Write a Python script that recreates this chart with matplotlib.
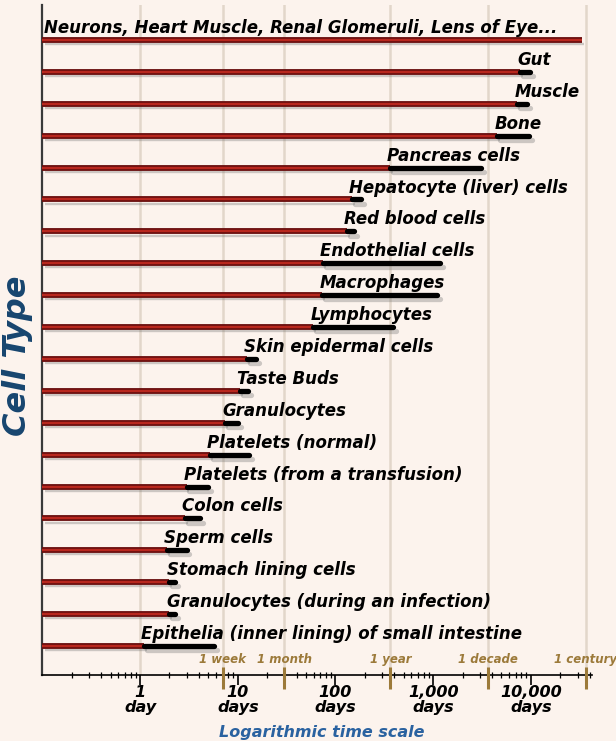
"""Cell turnover times on a logarithmic day scale: red bar up to the shortest
reported lifetime, black extension up to the longest."""

import matplotlib
matplotlib.use("Agg")
import matplotlib.pyplot as plt
import matplotlib.patheffects as pe
from matplotlib.ticker import LogLocator, NullFormatter

# top row first
cell_types = [
    "Neurons, Heart Muscle, Renal Glomeruli, Lens of Eye...",
    "Gut", "Muscle", "Bone", "Pancreas cells", "Hepatocyte (liver) cells",
    "Red blood cells", "Endothelial cells", "Macrophages", "Lymphocytes",
    "Skin epidermal cells", "Taste Buds", "Granulocytes", "Platelets (normal)",
    "Platelets (from a transfusion)", "Colon cells", "Sperm cells",
    "Stomach lining cells", "Granulocytes (during an infection)",
    "Epithelia (inner lining) of small intestine",
]
min_days = [33000, 7750, 7200, 4500, 360, 148, 131, 75, 73, 59,
            12.5, 10.5, 7.4, 5.2, 3.0, 2.9, 1.9, 2.0, 2.0, 1.1]
max_days = [33000, 9800, 9150, 9600, 3100, 183, 155, 1180, 1100, 390,
            15.4, 12.7, 10.1, 13.0, 5.0, 4.1, 3.0, 2.3, 2.3, 5.7]

marker_names = ["1 week", "1 month", "1 year", "1 decade", "1 century"]
marker_days = [7, 30, 365, 3650, 36500]

tick_days = [1, 10, 100, 1000, 10000]
tick_labels = ["1\nday", "10\ndays", "100\ndays", "1,000\ndays", "10,000\ndays"]

BG = "#fcf3ed"
RED = "#b8271e"
RED_DARK = "#680e0e"
BROWN = "#9c7a3a"
FONT = dict(family="DejaVu Sans", weight="bold", style="italic")

fig = plt.figure(figsize=(6.16, 7.41), dpi=100, facecolor=BG)
ax = fig.add_axes([0.0687, 0.0891, 0.892, 0.9042], facecolor=BG)
ax.set_xscale("log")
x0, x1 = 0.1, 42000
ax.set_xlim(x0, x1)
ax.set_ylim(-0.91, 20.1)

n = len(cell_types)

# light vertical guides at the named time spans and at 1 day
for d in [1] + marker_days:
    ax.axvline(d, color="#e2d6ca", lw=1.8, zorder=0)

shadow = pe.SimpleLineShadow(offset=(2, -3), shadow_color="0.45", alpha=0.35)
for i, (name, lo, hi) in enumerate(zip(cell_types, min_days, max_days)):
    y = n - 1 - i
    ax.plot([x0, lo], [y, y], color=RED, lw=1.7, solid_capstyle="butt",
            zorder=3, path_effects=[shadow, pe.Stroke(linewidth=4.2, foreground=RED_DARK),
                                    pe.Normal()])
    if hi > lo:
        ax.plot([lo, hi], [y, y], color="black", lw=3.8, solid_capstyle="round",
                zorder=4, path_effects=[shadow, pe.Normal()])
    # labels sit above the bar, starting where the red part ends
    lx = lo if lo < 20000 else x0 * 1.12
    ax.annotate(name, (lx, y), xytext=(-2, 5), textcoords="offset points",
                ha="left", va="baseline", fontsize=12, color="black", **FONT)

# spines and ticks
for s in ("top", "right"):
    ax.spines[s].set_visible(False)
ax.spines["left"].set_color("#3a3a3a")
ax.spines["left"].set_linewidth(1.6)
ax.spines["bottom"].set_color("black")
ax.spines["bottom"].set_linewidth(1.2)
ax.set_yticks([])

ax.set_xticks(tick_days)
ax.set_xticklabels(tick_labels, fontsize=11.5, linespacing=1.0, **FONT)
ax.xaxis.set_minor_locator(LogLocator(base=10, subs=range(2, 10), numticks=20))
ax.xaxis.set_minor_formatter(NullFormatter())
ax.tick_params(axis="x", which="major", direction="out", length=7, width=1.2, pad=0)
ax.tick_params(axis="x", which="minor", direction="inout", length=5, width=0.9)

# brown markers for week / month / year / decade / century
y_axis = ax.get_ylim()[0]
ax.vlines(marker_days, y_axis - 0.45, y_axis + 0.25, color=BROWN, lw=2.2,
          clip_on=False, zorder=5)
for name, d in zip(marker_names, marker_days):
    ax.text(d, y_axis + 0.47, name, ha="center", va="center", fontsize=8.5,
            color=BROWN, **FONT)

fig.text(0.523, 0.002, "Logarithmic time scale", ha="center", va="bottom",
         fontsize=11.5, color="#2a62a0", **FONT)
fig.text(0.029, 0.52, "Cell Type", ha="center", va="center", rotation=90,
         fontsize=23, color="#17456f", **FONT)

fig.savefig("out.png", dpi=100, facecolor=BG)
